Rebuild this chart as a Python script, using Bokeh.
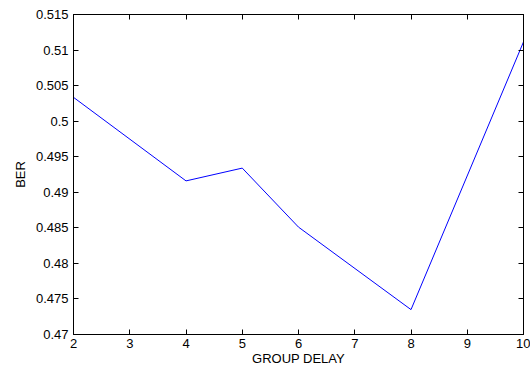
from bokeh.plotting import figure
from bokeh.models import LinearAxis, FixedTicker, Range1d
from bokeh.embed import file_html
from bokeh.resources import INLINE

group_delay = [2, 4, 5, 6, 8, 10]
ber = [0.50335, 0.49160, 0.49340, 0.48510, 0.47350, 0.51115]

x_ticks = [2, 3, 4, 5, 6, 7, 8, 9, 10]
x_tick_labels = ["2", "3", "4", "5", "6", "7", "8", "9", "10"]
y_ticks = [0.47, 0.475, 0.48, 0.485, 0.49, 0.495, 0.5, 0.505, 0.51, 0.515]
y_tick_labels = ["0.47", "0.475", "0.48", "0.485", "0.49", "0.495", "0.5", "0.505", "0.51", "0.515"]

FONT = "Liberation Sans"
FS = "13px"

p = figure(width=530, height=368, output_backend="svg", toolbar_location=None,
           x_range=Range1d(2, 10), y_range=Range1d(0.47, 0.515))
p.min_border_left = 73
p.min_border_right = 7
p.min_border_top = 14
p.min_border_bottom = 32
p.background_fill_color = "white"
p.border_fill_color = "white"
p.outline_line_color = "black"
p.outline_line_width = 1
p.grid.visible = False

p.line(group_delay, ber, line_color="#0000ff", line_width=1)

def style(ax, ticks, labels, show_labels):
    ax.ticker = FixedTicker(ticks=ticks)
    if show_labels:
        ax.major_label_overrides = {t: l for t, l in zip(ticks, labels)}
    else:
        ax.major_label_overrides = {t: "" for t in ticks}
    ax.major_tick_in = 5
    ax.major_tick_out = 0
    ax.minor_tick_in = 0
    ax.minor_tick_out = 0
    ax.axis_line_color = "black"
    ax.major_tick_line_color = "black"
    ax.major_label_text_font = FONT
    ax.major_label_text_color = "black"
    ax.major_label_text_font_size = FS
    ax.axis_label_text_font = FONT
    ax.axis_label_text_font_style = "normal"
    ax.axis_label_text_color = "black"
    ax.axis_label_text_font_size = FS
    if not show_labels:
        ax.major_label_standoff = 0

xa = p.xaxis[0]
style(xa, x_ticks, x_tick_labels, True)
xa.axis_label = "GROUP DELAY"
xa.major_label_standoff = 4
xa.axis_label_standoff = 0

ya = p.yaxis[0]
style(ya, y_ticks, y_tick_labels, True)
ya.axis_label = "BER"
ya.major_label_standoff = 5
ya.axis_label_standoff = 5

top = LinearAxis()
style(top, x_ticks, x_tick_labels, False)
p.add_layout(top, "above")
right = LinearAxis()
style(right, y_ticks, y_tick_labels, False)
p.add_layout(right, "right")

open("out.html", "w").write(file_html(p, INLINE))
